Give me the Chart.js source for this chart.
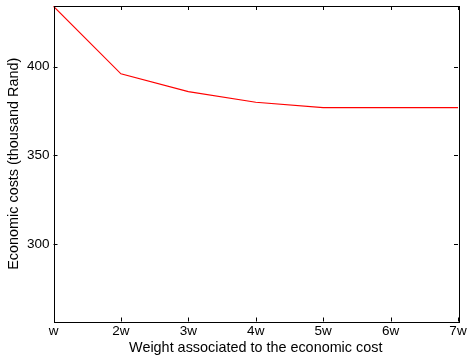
<!DOCTYPE html>
<html lang="en">
<head>
  <meta charset="UTF-8">
  <title>Economic costs vs weight</title>
  <script src="https://cdn.jsdelivr.net/npm/chart.js"></script>
  <style>
    html, body { margin: 0; padding: 0; background: #fff; }
    #wrap { width: 467px; height: 360px; }
  </style>
</head>
<body>
  <div id="wrap"><canvas id="costChart" width="467" height="360"></canvas></div>

  <script>
    // values
    const weights = ['w', '2w', '3w', '4w', '5w', '6w', '7w'];
    const costs = [434, 396, 386, 380, 377, 377, 377];
    const yTicks = [300, 350, 400];

    const font = 'Liberation Sans, Arial, Helvetica, sans-serif';

    // matplotlib classic look: black box, ticks pointing inwards on every side
    const frameTicks = {
      id: 'frameTicks',
      afterDraw(chart) {
        const { ctx, chartArea: a, scales } = chart;
        ctx.save();
        ctx.strokeStyle = '#000';
        ctx.lineWidth = 1;
        ctx.strokeRect(Math.round(a.left) + 0.5, Math.round(a.top) + 0.5,
          Math.round(a.right - a.left), Math.round(a.bottom - a.top));
        ctx.beginPath();
        weights.forEach((w, i) => {
          const x = Math.round(scales.x.getPixelForValue(i)) + 0.5;
          ctx.moveTo(x, a.bottom); ctx.lineTo(x, a.bottom - 4);
          ctx.moveTo(x, a.top); ctx.lineTo(x, a.top + 4);
        });
        yTicks.forEach(v => {
          const y = Math.round(scales.y.getPixelForValue(v)) + 0.5;
          ctx.moveTo(a.left, y); ctx.lineTo(a.left + 4, y);
          ctx.moveTo(a.right, y); ctx.lineTo(a.right - 4, y);
        });
        ctx.stroke();
        ctx.restore();
      }
    };

    new Chart(document.getElementById('costChart').getContext('2d'), {
      type: 'line',
      data: {
        labels: weights,
        datasets: [{
          data: costs,
          borderColor: '#ff0000',
          borderWidth: 1.2,
          pointRadius: 0,
          tension: 0,
          fill: false
        }]
      },
      options: {
        responsive: false,
        animation: false,
        layout: { padding: { left: 0, top: 6, right: 9, bottom: 0 } },
        plugins: { legend: { display: false }, tooltip: { enabled: false } },
        scales: {
          x: {
            offset: false,
            grid: { display: false, drawTicks: false },
            border: { display: false },
            ticks: { color: '#000', font: { family: font, size: 13.5 }, padding: 2, maxRotation: 0, autoSkip: false },
            title: { display: true, text: 'Weight associated to the economic cost', color: '#000',
                     font: { family: font, size: 14.4 }, padding: { top: 0, bottom: 3 } },
            afterFit(s) { s.height = 38.5; s.paddingLeft = 0; s.paddingRight = 0; }
          },
          y: {
            min: 256.5,
            max: 434.2,
            grid: { display: false, drawTicks: false },
            border: { display: false },
            afterBuildTicks(s) { s.ticks = yTicks.map(v => ({ value: v })); },
            ticks: { color: '#000', font: { family: font, size: 13.5 }, padding: 4 },
            title: { display: true, text: 'Economic costs (thousand Rand)', color: '#000',
                     font: { family: font, size: 14.4 }, padding: { top: 5, bottom: 0 } },
            afterFit(s) { s.width = 53.5; s.paddingTop = 0; s.paddingBottom = 0; }
          }
        }
      },
      plugins: [frameTicks]
    });
  </script>
</body>
</html>
